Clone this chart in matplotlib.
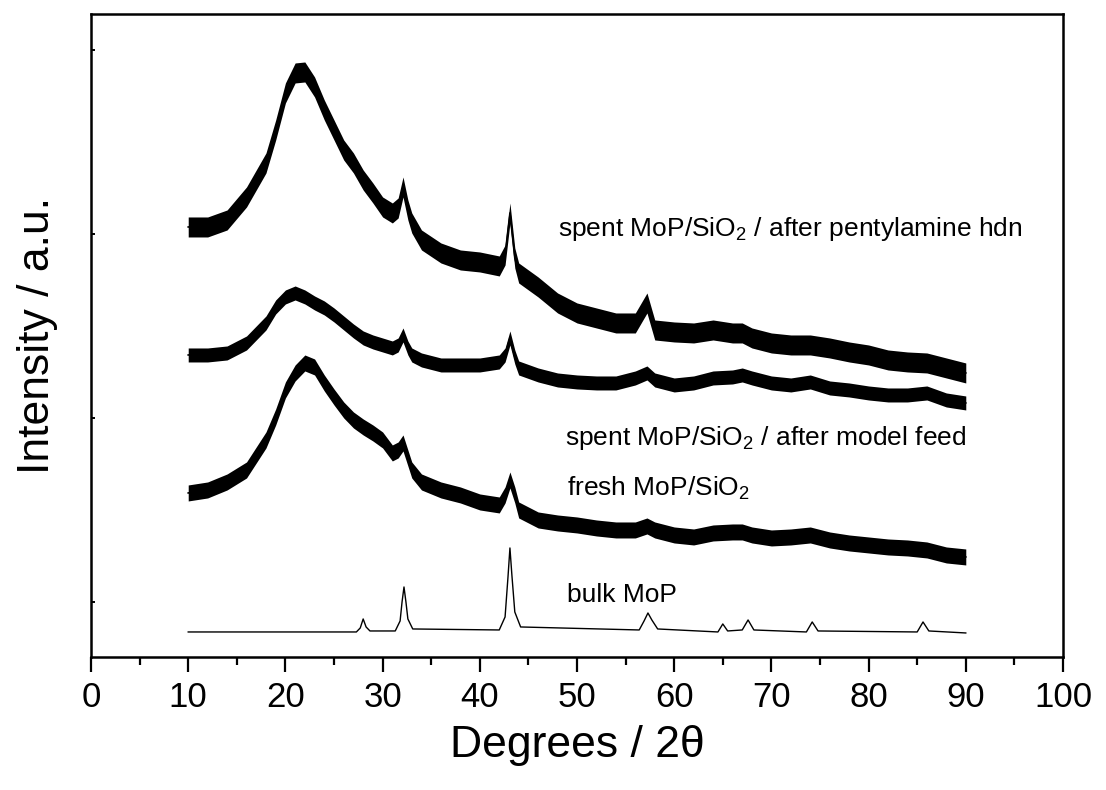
import numpy as np
import matplotlib
matplotlib.use("Agg")
from matplotlib import pyplot as plt

plt.rcParams['font.family'] = ['Liberation Sans', 'DejaVu Sans']
plt.rcParams['mathtext.fontset'] = 'custom'
plt.rcParams['mathtext.rm'] = 'Liberation Sans'
plt.rcParams['mathtext.it'] = 'Liberation Sans:italic'

# 2theta grid for the noisy (supported) patterns
two_theta = [10, 12, 14, 16, 18, 19, 20, 21, 22, 23, 24, 25, 26, 27, 28, 29, 30, 31,
             31.6, 32.1, 32.6, 33, 34, 36, 38, 40, 42, 42.6, 43.1, 43.6, 44, 46, 48,
             50, 52, 54, 56, 57.2, 58, 60, 62, 64, 66, 67, 68, 70, 72, 74, 76, 78,
             80, 82, 84, 86, 88, 90]

# spent MoP/SiO2 after pentylamine hdn (offset intensity, a.u.)
spent_hdn = [430, 430, 437, 460, 494, 527, 564, 584, 585, 570, 547, 527, 507, 494,
             477, 464, 450, 444, 449, 470, 447, 434, 417, 404, 397, 395, 391, 402,
             444, 399, 384, 370, 354, 344, 339, 334, 334, 354, 327, 325, 324, 327,
             324, 324, 319, 314, 312, 312, 309, 305, 302, 297, 295, 294, 289, 284]

# spent MoP/SiO2 after model feed
spent_feed = [302, 302, 304, 314, 334, 350, 360, 364, 360, 354, 349, 342, 334, 326,
              319, 315, 312, 309, 312, 322, 309, 302, 297, 292, 292, 292, 295, 302,
              319, 300, 289, 282, 277, 275, 274, 274, 279, 284, 277, 272, 274, 279,
              280, 282, 279, 274, 272, 275, 269, 267, 264, 262, 262, 264, 257, 254]

# fresh MoP/SiO2
fresh = [164, 167, 175, 187, 217, 240, 267, 284, 294, 290, 274, 260, 247, 237,
         230, 224, 217, 204, 207, 214, 199, 187, 175, 167, 162, 155, 152, 162,
         177, 162, 147, 137, 134, 132, 129, 127, 127, 131, 127, 122, 120, 124,
         125, 125, 122, 119, 120, 122, 117, 114, 112, 110, 109, 107, 102, 100]

# half-height of the noise band seen on each pattern
spread_hdn = 10
spread_feed = 7
spread_fresh = 8

# bulk MoP (crystalline reference)
bulk_theta = [10, 27.3, 27.7, 28.0, 28.3, 28.7, 31.3, 31.8, 32.0, 32.2, 32.4, 32.6,
              33.1, 42.0, 42.6, 42.9, 43.1, 43.3, 43.6, 44.2, 56.4, 56.9, 57.3, 57.7,
              58.3, 64.5, 65.0, 65.5, 67.0, 67.6, 68.2, 73.6, 74.2, 74.8, 85.0, 85.6,
              86.2, 90]
bulk = [25, 25, 29, 38, 30, 26, 26, 36, 55, 70, 55, 38,
        28, 27, 40, 80, 109, 82, 45, 30, 27, 36, 44, 37,
        28, 25, 33, 26, 27, 37, 27, 25, 35, 26, 25, 35,
        26, 24]

fig = plt.figure(figsize=(11.06, 7.90), dpi=100)
ax = fig.add_axes([0.0823, 0.1684, 0.8788, 0.8139])

x = np.array(two_theta)
for y, s in [(spent_hdn, spread_hdn), (spent_feed, spread_feed), (fresh, spread_fresh)]:
    y = np.array(y)
    ax.fill_between(x, y - s, y + s, color='black', lw=0)
    ax.plot(x, y, color='black', lw=1.2)

ax.plot(bulk_theta, bulk, color='black', lw=1.0)

fs = 19
ax.text(48.0, 421, r'spent MoP/SiO$_\mathregular{2}$ / after pentylamine hdn', fontsize=fs)
ax.text(48.8, 212, r'spent MoP/SiO$_\mathregular{2}$ / after model feed', fontsize=fs)
ax.text(49.0, 161, r'fresh MoP/SiO$_\mathregular{2}$', fontsize=fs)
ax.text(49.0, 55, 'bulk MoP', fontsize=fs)

ax.set_xlim(0, 100)
ax.set_ylim(0, 643)
ax.set_xticks(np.arange(0, 101, 10))
ax.set_xticks(np.arange(5, 100, 10), minor=True)
ax.set_yticks([55, 239, 423, 607])
ax.set_yticklabels([])
ax.tick_params(axis='x', which='major', direction='out', length=11, width=1.6,
               labelsize=25, pad=6)
ax.tick_params(axis='x', which='minor', direction='out', length=6, width=1.6)
ax.tick_params(axis='y', direction='in', length=3, width=1.4)
for sp in ax.spines.values():
    sp.set_linewidth(1.8)

ax.set_xlabel('Degrees / 2θ', fontsize=32, labelpad=8)
ax.set_ylabel('Intensity / a.u.', fontsize=32, labelpad=20)

plt.savefig("out.png")
